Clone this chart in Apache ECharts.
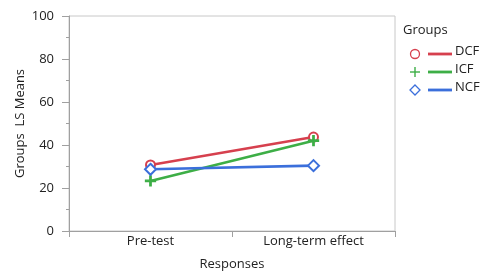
<!DOCTYPE html>
<html><head><meta charset="utf-8">
<script src="https://cdn.jsdelivr.net/npm/echarts@6/dist/echarts.min.js"></script>
<style>html,body{margin:0;padding:0;background:#fff}#c{width:484px;height:271px}</style>
</head><body><div id="c"></div>
<script>
const categories = ['Pre-test', 'Long-term effect'];
const groups = ['DCF', 'ICF', 'NCF'];
const dcf = [30.7, 43.7];
const icf = [23.3, 42.0];
const ncf = [28.7, 30.4];
const yTicks = [0, 20, 40, 60, 80, 100];

const colors = ['#D6404E', '#3DAE46', '#3B6FDB'];
const FONT = '"Open Sans", "Noto Sans", sans-serif';
const FS = 13;
const plusPath = 'path://M4.3,0H5.7V4.3H10V5.7H5.7V10H4.3V5.7H0V4.3H4.3Z';
const symbols = ['emptyCircle', plusPath, 'emptyDiamond'];
const symSizes = [9, 10, 11];
const values = [dcf, icf, ncf];

const chart = echarts.init(document.getElementById('c'));
const legendGraphics = [{
  type: 'text', left: 403, top: 24,
  style: { text: 'Groups', font: FS + 'px ' + FONT, fill: '#222' }
}];
const rowY = [54, 72, 90];
groups.forEach((g, i) => {
  const cy = rowY[i];
  if (i === 0) {
    legendGraphics.push({ type: 'circle', shape: { cx: 415, cy: cy, r: 4.5 }, style: { fill: 'none', stroke: colors[i], lineWidth: 1.3 } });
  } else if (i === 1) {
    legendGraphics.push({ type: 'line', shape: { x1: 410, y1: cy, x2: 420, y2: cy }, style: { stroke: colors[i], lineWidth: 1.4 } });
    legendGraphics.push({ type: 'line', shape: { x1: 415, y1: cy - 5, x2: 415, y2: cy + 5 }, style: { stroke: colors[i], lineWidth: 1.4 } });
  } else {
    legendGraphics.push({ type: 'polygon', shape: { points: [[415, cy - 5], [420, cy], [415, cy + 5], [410, cy]] }, style: { fill: 'none', stroke: colors[i], lineWidth: 1.3 } });
  }
  legendGraphics.push({ type: 'line', shape: { x1: 428, y1: cy, x2: 452, y2: cy }, style: { stroke: colors[i], lineWidth: 2.8 } });
  legendGraphics.push({ type: 'text', left: 455, top: cy - 9, style: { text: g, font: FS + 'px ' + FONT, fill: '#222' } });
});

chart.setOption({
  animation: false,
  textStyle: { fontFamily: FONT },
  grid: { left: 69, right: 89, top: 16, bottom: 40, show: true, borderColor: '#c8c8c8', borderWidth: 1, containLabel: false, outerBoundsMode: 'none' },
  xAxis: {
    type: 'category', data: categories, boundaryGap: true,
    name: 'Responses', nameLocation: 'middle', nameGap: 27, nameMoveOverlap: false,
    nameTextStyle: { fontSize: FS, color: '#222', fontFamily: FONT },
    axisLine: { lineStyle: { color: '#a0a0a0' } },
    axisTick: { show: true, length: 6, lineStyle: { color: '#a0a0a0' } },
    axisLabel: { fontSize: FS, color: '#222', margin: 4, fontFamily: FONT },
    splitLine: { show: false }
  },
  yAxis: {
    type: 'value', min: yTicks[0], max: yTicks[yTicks.length - 1], interval: 20,
    name: 'Groups  LS Means', nameLocation: 'middle', nameGap: 42, nameMoveOverlap: false,
    nameTextStyle: { fontSize: FS, color: '#222', fontFamily: FONT },
    axisLine: { show: true, lineStyle: { color: '#a0a0a0' } },
    axisTick: { show: true, length: 7, lineStyle: { color: '#a0a0a0' } },
    minorTick: { show: true, splitNumber: 2, length: 3, lineStyle: { color: '#a0a0a0' } },
    axisLabel: { fontSize: FS, color: '#222', margin: 15, fontFamily: FONT },
    splitLine: { show: false }
  },
  series: groups.map((g, i) => ({
    name: g, type: 'line', data: values[i],
    symbol: symbols[i], symbolSize: symSizes[i],
    showAllSymbol: true,
    lineStyle: { color: colors[i], width: 2.6 },
    itemStyle: { color: colors[i], borderColor: colors[i], borderWidth: 1.3 },
    z: 2 + i
  })),
  graphic: legendGraphics
});
</script></body></html>
